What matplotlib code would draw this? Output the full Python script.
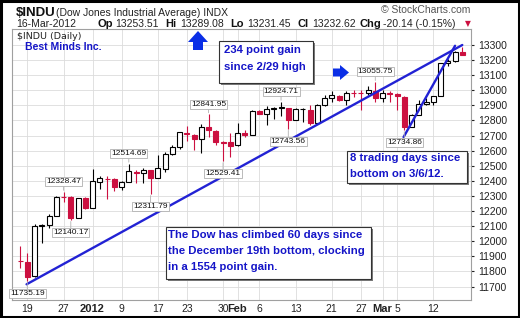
import numpy as np
import matplotlib
matplotlib.use("Agg")
import matplotlib.pyplot as plt
from matplotlib.patches import Rectangle, Polygon

plt.rcParams["font.family"] = ["Liberation Sans", "DejaVu Sans"]

# ---------------------------------------------------------------------------
# Data: daily OHLC for $INDU, Dec 16 2011 - Mar 16 2012
# ---------------------------------------------------------------------------
dates = [
    "Dec 16", "Dec 19", "Dec 20", "Dec 21", "Dec 22", "Dec 23", "Dec 27", "Dec 28", "Dec 29", "Dec 30",
    "Jan 3", "Jan 4", "Jan 5", "Jan 6", "Jan 9", "Jan 10", "Jan 11", "Jan 12", "Jan 13", "Jan 17",
    "Jan 18", "Jan 19", "Jan 20", "Jan 23", "Jan 24", "Jan 25", "Jan 26", "Jan 27", "Jan 30", "Jan 31",
    "Feb 1", "Feb 2", "Feb 3", "Feb 6", "Feb 7", "Feb 8", "Feb 9", "Feb 10", "Feb 13", "Feb 14",
    "Feb 15", "Feb 16", "Feb 17", "Feb 21", "Feb 22", "Feb 23", "Feb 24", "Feb 27", "Feb 28", "Feb 29",
    "Mar 1", "Mar 2", "Mar 5", "Mar 6", "Mar 7", "Mar 8", "Mar 9", "Mar 12", "Mar 13", "Mar 14",
    "Mar 15", "Mar 16",
]
opens = [
    11868, 11866, 11769, 12102, 12109, 12170, 12292, 12290, 12151, 12287,
    12221, 12392, 12415, 12415, 12360, 12393, 12458, 12449, 12470, 12422,
    12482, 12580, 12623, 12720, 12707, 12676, 12760, 12730, 12660, 12655,
    12640, 12716, 12706, 12860, 12843, 12878, 12884, 12881, 12801, 12874,
    12872, 12781, 12904, 12950, 12965, 12938, 12985, 12983, 12981, 12995,
    12952, 12980, 12977, 12958, 12759, 12838, 12908, 12920, 12960, 13178,
    13194, 13253.51,
]
highs = [
    11968, 11920, 12112, 12117, 12180, 12300, 12328.47, 12297, 12288, 12290,
    12479, 12430, 12430, 12419, 12400, 12514.69, 12474, 12485, 12473, 12572,
    12590, 12640, 12720, 12766, 12709, 12775, 12841.95, 12740, 12662, 12715,
    12782, 12735, 12870, 12870, 12898, 12890, 12924.71, 12882, 12880, 12880,
    12905, 12910, 12969, 12995, 12970, 12995, 13005, 13005, 13027, 13055.75,
    13000, 12995, 12980, 12960, 12840, 12936, 12950, 12964, 13178, 13205,
    13261, 13289.08,
]
lows = [
    11823, 11735.19, 11766, 11990, 12090, 12165, 12260, 12140.17, 12151, 12215,
    12221, 12345, 12280, 12330, 12340, 12393, 12384, 12384, 12311.79, 12418,
    12460, 12570, 12610, 12662, 12605, 12585, 12693, 12638, 12529.41, 12561,
    12632, 12690, 12706, 12840, 12770, 12812, 12828, 12743.56, 12801, 12792,
    12767, 12775, 12895, 12920, 12930, 12900, 12955, 12870, 12970, 12925,
    12925, 12925, 12870, 12734.86, 12759, 12838, 12900, 12905, 12960, 13161,
    13190, 13231.45,
]
closes = [
    11866.39, 11766.26, 12103.58, 12107.74, 12169.65, 12294.00, 12291.35, 12151.41, 12287.04, 12217.56,
    12397.38, 12418.42, 12415.70, 12359.92, 12392.69, 12462.47, 12449.45, 12471.02, 12422.06, 12482.07,
    12578.95, 12623.98, 12720.48, 12708.82, 12675.75, 12756.96, 12734.63, 12660.46, 12653.72, 12632.91,
    12716.46, 12705.41, 12862.23, 12845.13, 12878.20, 12883.95, 12890.46, 12801.23, 12874.04, 12878.28,
    12780.95, 12904.08, 12949.87, 12965.69, 12938.67, 12984.69, 12982.95, 12981.20, 13005.12, 12952.07,
    12980.30, 12977.57, 12962.81, 12759.15, 12837.33, 12907.94, 12922.02, 12959.71, 13177.68, 13194.10,
    13252.76, 13232.62,
]

tick_dates = ["Dec 19", "Dec 27", "Jan 3", "Jan 9", "Jan 17", "Jan 23", "Jan 30", "Feb 1",
              "Feb 6", "Feb 13", "Feb 21", "Feb 27", "Mar 1", "Mar 5", "Mar 12"]
tick_labels = ["19", "27", "2012", "9", "17", "23", "30", "Feb", "6", "13", "21", "27", "Mar", "5", "12"]
bold_ticks = ["2012", "Feb", "Mar"]

# auto-annotated swing highs / lows
peak_dates = ["Dec 19", "Dec 27", "Dec 28", "Jan 10", "Jan 13", "Jan 26", "Jan 30",
              "Feb 9", "Feb 10", "Feb 29", "Mar 6"]
peak_kinds = ["low", "high", "low", "high", "low", "high", "low", "high", "low", "high", "low"]

# hand-drawn trendlines: (date, price) at each end
trend_main = [("Dec 19", 11715), ("Mar 16", 13300)]
trend_short = [("Mar 6", 12690), ("Mar 15", 13295)]

header_keys = ["Op", "Hi", "Lo", "Cl", "Chg"]
header_vals = ["13253.51", "13289.08", "13231.45", "13232.62", "-20.14 (-0.15%)"]

# ---------------------------------------------------------------------------
RED = "#cc1040"
BLUE = "#1515c8"
LINE_BLUE = "#2222d4"
W, H = 520, 318

opens, highs, lows, closes = map(np.asarray, (opens, highs, lows, closes))
x = np.arange(len(dates))

fig = plt.figure(figsize=(W / 100, H / 100), dpi=100)
fig.patch.set_facecolor("white")
ax = fig.add_axes([12 / W, 18 / H, 459 / W, 271 / H])
ax.set_xlim(-1.11, 62.2)
ax.set_ylim(11611, 13406)

# grid + axes
ax.set_yticks(np.arange(11700, 13301, 100))
ax.yaxis.tick_right()
ax.tick_params(axis="y", length=2, pad=3, labelsize=7.5, colors="#222222")
ax.set_xticks([dates.index(d) for d in tick_dates])
ax.set_xticklabels(tick_labels)
ax.tick_params(axis="x", length=0, pad=3, labelsize=7.5, colors="#222222")
for t in ax.get_xticklabels():
    if t.get_text() in bold_ticks:
        t.set_fontweight("bold")
        t.set_fontsize(8)
ax.grid(True, color="#dcdcdc", lw=0.6)
ax.set_axisbelow(True)
for s in ax.spines.values():
    s.set_color("#a0a0a0")
    s.set_linewidth(0.8)

# candles: black/red by change vs previous close, hollow when close > open
prev = np.r_[opens[0], closes[:-1]]
colors = np.where(closes >= prev, "black", RED)
faces = np.where(closes >= opens, "white", colors)
ax.vlines(x, lows, highs, colors=colors, lw=0.8, zorder=2)
ax.bar(x, np.abs(closes - opens), bottom=np.minimum(opens, closes), width=0.68,
       color=faces, edgecolor=colors, linewidth=0.8, zorder=3)

# trendlines
for seg in (trend_main, trend_short):
    xs = [dates.index(d) for d, _ in seg]
    xs[0] -= 0.1
    ax.plot(xs, [p for _, p in seg], color=LINE_BLUE, lw=1.7, zorder=4,
            solid_capstyle="round")

# swing labels
for d, kind in zip(peak_dates, peak_kinds):
    i = dates.index(d)
    v = highs[i] if kind == "high" else lows[i]
    dy = 10 if kind == "high" else -12.5
    ax.annotate(f"{v:.2f}", xy=(i, v), xytext=(0, dy), textcoords="offset pixels",
                ha="center", va="center", fontsize=6, color="#111111", zorder=6,
                bbox=dict(boxstyle="square,pad=0.12", fc="white", ec="#b0b0b0", lw=0.6),
                arrowprops=dict(arrowstyle="-", color="#b0b0b0", lw=0.6, shrinkA=0, shrinkB=1))

# ---------------------------------------------------------------------------
# overlay in pixel coordinates for header, notes and arrows
ov = fig.add_axes([0, 0, 1, 1], zorder=5)
ov.set_xlim(0, W)
ov.set_ylim(H, 0)
ov.axis("off")

ov.text(16, 16, "$INDU", fontsize=9.5, fontweight="bold", color="#111111")
ov.text(56, 16, "(Dow Jones Industrial Average) INDX", fontsize=7.5, color="#222222")
ov.text(470, 13, "\u00a9 StockCharts.com", fontsize=7.5, color="#555555", ha="right")
ov.text(16, 27, "16-Mar-2012", fontsize=7.5, color="#222222")
key_x = [97, 165, 230, 298, 359]
val_x = [115, 180, 247, 312, 383]
for k, v, kx, vx in zip(header_keys, header_vals, key_x, val_x):
    ov.text(kx, 27, k, fontsize=8, fontweight="bold", color="#111111")
    ov.text(vx, 27, v, fontsize=7.5, color="#222222")
ov.text(465, 26.5, "\u25bc", fontsize=5.5, color=RED, family="DejaVu Sans")

ov.text(17, 39, "$INDU (Daily)", fontsize=6.8, color="#222222", family="DejaVu Sans")
ov.text(25, 50, "Best Minds Inc.", fontsize=7.5, fontweight="bold", color=BLUE)


def note(x0, y0, x1, y1, lines, tx, ty, step):
    ov.add_patch(Rectangle((x0 + 2, y0 + 2), x1 - x0, y1 - y0, fc="#7a7a7a", ec="none", zorder=1))
    ov.add_patch(Rectangle((x0, y0), x1 - x0, y1 - y0, fc="white", ec="#333333", lw=0.8, zorder=2))
    for k, s in enumerate(lines):
        ov.text(tx, ty + k * step, s, fontsize=8.2, fontweight="bold", color=BLUE,
                va="center", ha="left", zorder=3)


note(219, 41, 313, 83, ["234 point gain", "since 2/29 high"], 224, 50, 17)
note(347, 151, 467, 183, ["8 trading days since", "bottom on 3/6/12."], 350, 158, 16)
note(166, 227, 371, 279, ["The Dow has climbed 60 days since",
                          "the December 19th bottom, clocking",
                          "in a 1554 point gain."], 168.5, 234.5, 16.3)

# block arrows
ov.add_patch(Polygon([(198, 31), (208, 42), (203, 42), (203, 50), (193, 50), (193, 42), (188, 42)],
                     closed=True, fc="#0a2ee6", ec="none"))
ov.add_patch(Polygon([(349, 72.5), (340, 65), (340, 68.5), (333, 68.5), (333, 76.5), (340, 76.5), (340, 80)],
                     closed=True, fc="#0a2ee6", ec="none"))

# outer frame
ov.add_patch(Rectangle((1, 1), W - 2.5, H - 2.5, fc="none", ec="black", lw=2.2))

fig.savefig("out.png", dpi=100)
